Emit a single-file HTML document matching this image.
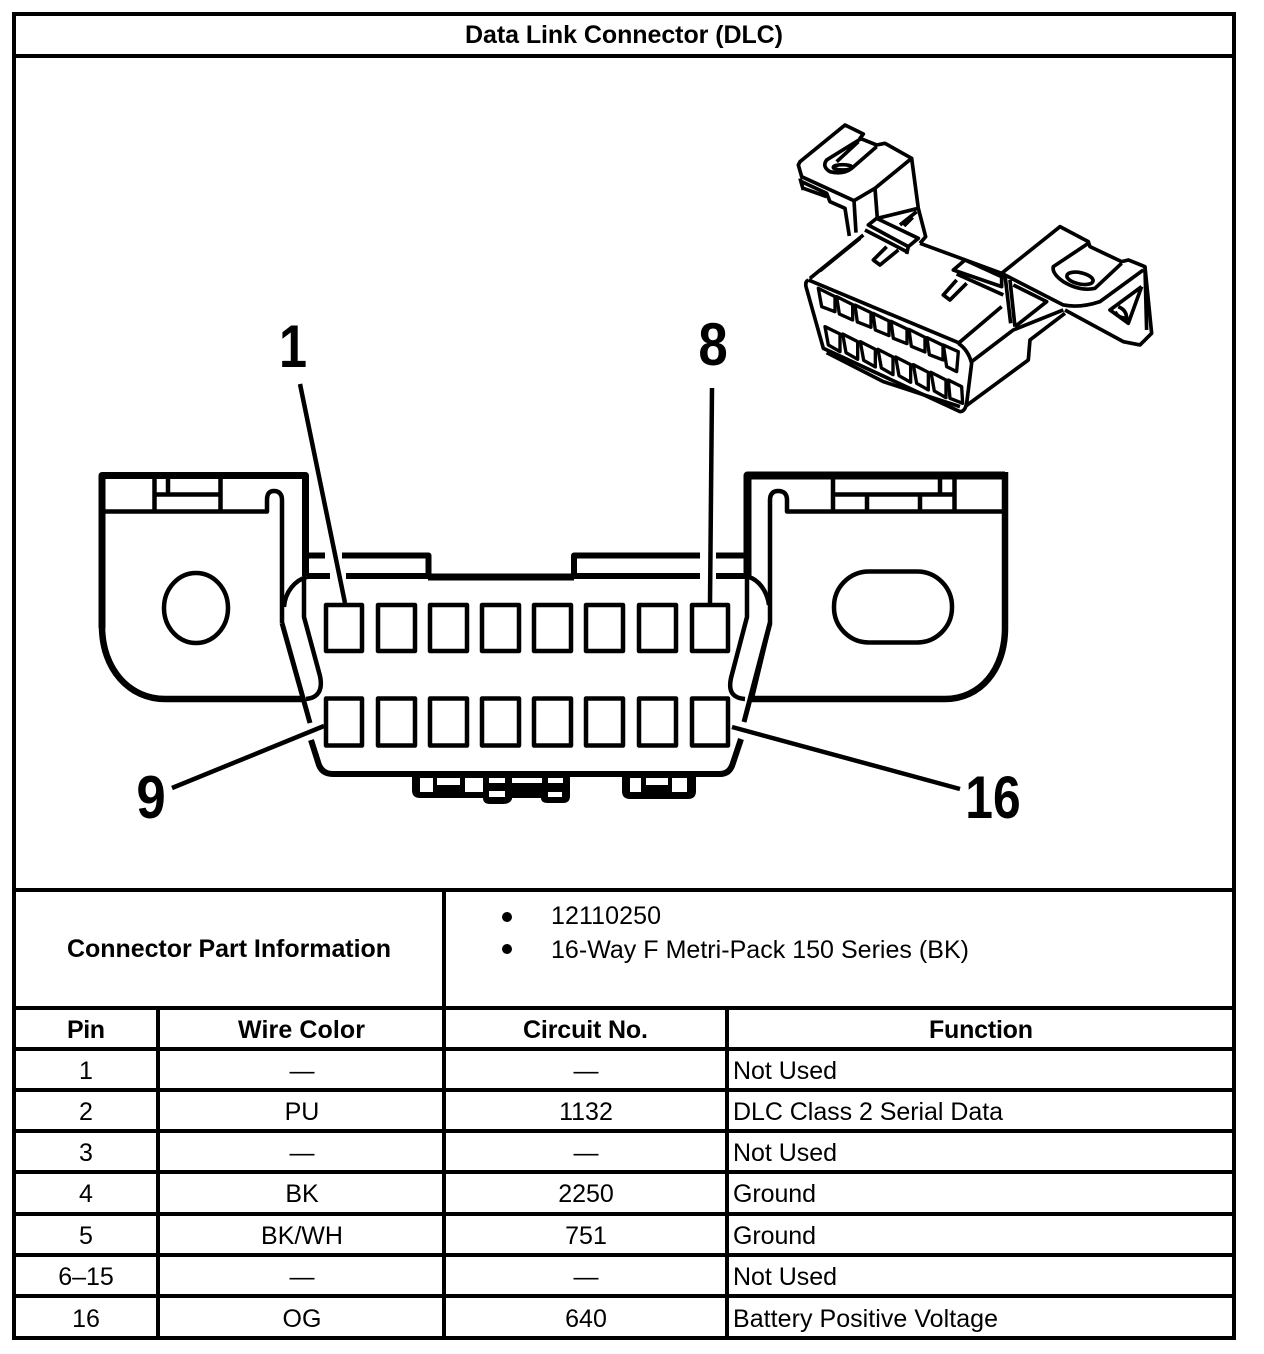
<!DOCTYPE html>
<html><head><meta charset="utf-8"><title>Data Link Connector (DLC)</title>
<style>
html,body{margin:0;padding:0;background:#fff}
svg{display:block}
text{font-family:"Liberation Sans",Arial,sans-serif;font-size:25px;fill:#000}
.b{font-weight:bold}
.m{text-anchor:middle}
.big{font-weight:bold;font-size:60px}
.l{fill:none;stroke:#000;stroke-linejoin:round;stroke-linecap:butt}
</style></head><body>
<svg width="1264" height="1354" viewBox="0 0 1264 1354" xmlns="http://www.w3.org/2000/svg">
<rect width="1264" height="1354" fill="#fff"/>

<!-- table grid -->
<g stroke="#000" stroke-width="4" fill="none">
<rect x="14" y="14" width="1220" height="1324"/>
<path d="M14 56H1234M14 890H1234M14 1008H1234M14 1049H1234M14 1090H1234M14 1131H1234M14 1172H1234M14 1214H1234M14 1255H1234M14 1296H1234"/>
<path d="M444 890V1338M158 1008V1338M727 1008V1338"/>
</g>

<text class="b" x="465" y="43" textLength="318">Data Link Connector (DLC)</text>
<text class="b" x="67" y="957" textLength="324">Connector Part Information</text>
<circle cx="507" cy="917" r="5"/><circle cx="507" cy="949" r="5"/>
<text x="551" y="924" textLength="110">12110250</text>
<text x="551" y="958" textLength="418">16-Way F Metri-Pack 150 Series (BK)</text>

<text class="b" x="67" y="1038" textLength="38">Pin</text>
<text class="b" x="238" y="1038" textLength="127">Wire Color</text>
<text class="b" x="523" y="1038" textLength="125">Circuit No.</text>
<text class="b" x="929" y="1038" textLength="104">Function</text>

<text class="m" x="86" y="1079">1</text><text class="m" x="302" y="1079">—</text><text class="m" x="586" y="1079">—</text><text x="733" y="1079" textLength="104">Not Used</text>
<text class="m" x="86" y="1120">2</text><text class="m" x="302" y="1120">PU</text><text class="m" x="586" y="1120">1132</text><text x="733" y="1120" textLength="270">DLC Class 2 Serial Data</text>
<text class="m" x="86" y="1161">3</text><text class="m" x="302" y="1161">—</text><text class="m" x="586" y="1161">—</text><text x="733" y="1161" textLength="104">Not Used</text>
<text class="m" x="86" y="1202">4</text><text class="m" x="302" y="1202">BK</text><text class="m" x="586" y="1202">2250</text><text x="733" y="1202" textLength="83">Ground</text>
<text class="m" x="86" y="1244">5</text><text class="m" x="302" y="1244">BK/WH</text><text class="m" x="586" y="1244">751</text><text x="733" y="1244" textLength="83">Ground</text>
<text class="m" x="86" y="1285">6–15</text><text class="m" x="302" y="1285">—</text><text class="m" x="586" y="1285">—</text><text x="733" y="1285" textLength="104">Not Used</text>
<text class="m" x="86" y="1327">16</text><text class="m" x="302" y="1327">OG</text><text class="m" x="586" y="1327">640</text><text x="733" y="1327" textLength="265">Battery Positive Voltage</text>

<!-- callout numbers -->
<text class="big m" transform="translate(293 367) scale(.84 1)">1</text>
<text class="big m" transform="translate(713 365) scale(.88 1)">8</text>
<text class="big m" transform="translate(151 818) scale(.88 1)">9</text>
<text class="big m" transform="translate(993 818) scale(.83 1)">16</text>

<!-- leaders -->
<g class="l" stroke-width="4.5">
<path d="M300 384L345 603M712 388L710 603M172 788L324 726M732 727L960 789"/>
</g>

<!-- left bracket -->
<g class="l">
<path stroke-width="7" d="M305.5 576V475.5H102V628"/>
<path stroke-width="6.5" d="M102 626C102 670 130 699 165 699H303"/>
<path stroke-width="4.5" d="M102 511.5H267V500C267 493 270 491 274 491C279 491 282 494 282 500V623"/>
<path stroke-width="5" d="M282 623L310 723"/>
<path stroke-width="4.5" d="M154.500 475V511M220.500 475V511M155 494.500H220M168 475V494"/>
<ellipse cx="196" cy="608" rx="32" ry="35" stroke-width="4.5"/>
<path stroke-width="4.500" d="M307 577C295 580 285 592 284 607"/>
<path stroke-width="4.500" d="M304 577V617L320 676C323 690 318 698 306 699"/>
</g>

<!-- right bracket -->
<g class="l">
<path stroke-width="8" d="M747.500 576V475.500H1005"/>
<path stroke-width="6.500" d="M1005 472V628C1005 670 980 699 945 699H750"/>
<path stroke-width="4.500" d="M1005 511.500H787V500C787 494 784 491 778 491C773 491 770 494 770 500V623L752 698"/>
<path stroke-width="5" d="M770 623L744 722"/>
<path stroke-width="4.500" d="M833 475V511M954.500 475V511M833 494.500H954M940 475V494M867 494.500V511M920 494.500V511"/>
<rect x="834" y="571.500" width="118" height="71" rx="35" ry="35" stroke-width="4.500"/>
<path stroke-width="4.500" d="M747 577V617L731 678C728 692 733 698 745 699"/>
<path stroke-width="4.500" d="M749 577C758 580 767 590 769 605"/>
</g>

<!-- connector top edges -->
<g class="l">
<path stroke-width="6" d="M309 555.500H325M342 555.500H428.500V577M574 577V555.500H700M716 555.500H750"/>
<path stroke-width="6" d="M307 576H330M346 576H428M700 576H574M716 576H750"/>
<path stroke-width="7" d="M428 577H574"/>
<path stroke-width="6" d="M311 740L318 762C320 770 325 774 333 774H720C727 774 731 770 733 763L741 739"/>
</g>

<!-- pins -->
<g fill="none" stroke="#000" stroke-width="4.500" stroke-linejoin="round">
<rect x="326" y="605" width="36" height="46"/><rect x="378" y="605" width="37" height="46"/><rect x="430" y="605" width="37" height="46"/><rect x="482" y="605" width="37" height="46"/><rect x="534" y="605" width="37" height="46"/><rect x="586" y="605" width="37" height="46"/><rect x="639" y="605" width="37" height="46"/><rect x="692" y="605" width="36" height="46"/>
<rect x="326" y="698.500" width="36" height="47"/><rect x="378" y="698.500" width="37" height="47"/><rect x="430" y="698.500" width="37" height="47"/><rect x="482" y="698.500" width="37" height="47"/><rect x="534" y="698.500" width="37" height="47"/><rect x="586" y="698.500" width="37" height="47"/><rect x="639" y="698.500" width="37" height="47"/><rect x="692" y="698.500" width="36" height="47"/>
</g>

<!-- bottom clips -->
<path d="M412 774H570V796Q570 803 563 803H548Q541 803 541 798H512V799Q510 804 503 804H490Q483 804 483 798H420Q412 798 412 790Z"/>
<g fill="#fff">
<rect x="420" y="778" width="13" height="14"/><rect x="437" y="778" width="23" height="7"/><rect x="465" y="778" width="18" height="14"/><rect x="489" y="778" width="16" height="5"/><rect x="489" y="791" width="16" height="6"/><rect x="512" y="778" width="30" height="5"/><rect x="548" y="778" width="15" height="5"/><rect x="548" y="792" width="14" height="5"/>
</g>
<path d="M622 774H696V791Q696 799 688 799H630Q622 799 622 791Z"/>
<g fill="#fff"><rect x="630" y="778" width="11" height="14"/><rect x="646" y="778" width="22" height="7"/><rect x="672" y="778" width="15" height="14"/></g>

<!-- 3D connector -->
<g transform="translate(780 110) scale(.3333)" class="l" stroke-width="11">
<path d="M60 155L195 45L250 72L240 85L290 105L315 100L395 145L285 235L222 272L65 200L55 165Z"/>
<path d="M245 85L140 150Q125 170 150 185Q190 195 215 175L290 110M235 95L170 155"/>
<ellipse cx="188" cy="172" rx="28" ry="8"/>
<path d="M60 205L70 240M65 215L140 250L150 275L195 295L208 378M70 235L140 260M222 272L228 368M395 145L415 295L437 380L420 400M285 235L292 325M415 295L292 325M410 305L360 345M398 322L372 348"/>
<path d="M265 345L290 325L415 385L385 410ZM255 360L380 425M320 410L280 450L300 465L355 420M385 410L380 432"/>
<path d="M90 505L250 375M120 482L240 385M85 510L540 700M420 400L665 490"/>
<path d="M85 510Q75 515 78 530L130 715L540 905Q555 905 560 880L575 760Q565 720 535 700"/>
<path d="M140 728L310 815L540 890"/>
<path d="M535 700L665 590M575 755L700 660L850 600M555 890L745 750L750 690L855 610"/>
<path d="M520 480L555 450L665 500V530ZM530 492L670 555M530 510L490 555L510 570L560 520"/>
<path d="M665 490L840 350L925 395L930 410L1025 455L1045 450L1095 470L1115 670L1080 705L1030 695L855 600"/>
<path d="M665 490L850 585Q900 595 960 575L1090 480M1095 470L1100 660"/>
<path d="M1085 530L990 600L1045 640L1085 530M1015 590Q1040 600 1040 625Q1015 625 1005 605"/>
<path d="M925 400L820 470Q815 490 850 515Q900 545 945 535L1025 460"/>
<ellipse cx="900" cy="505" rx="40" ry="17" transform="rotate(12 900 505)"/>
<path d="M675 495L692 640M690 510L705 650M700 525L800 575L705 650"/>
<g stroke-width="10">
<path d="M115 535L165 560V605L125 590Z"/><path d="M170 560L218 584V630L178 612Z"/><path d="M225 585L273 608V652L232 636Z"/><path d="M279 610L327 633V677L286 660Z"/><path d="M333 634L381 657V701L340 685Z"/><path d="M387 658L435 682V726L394 709Z"/><path d="M441 683L489 706V750L448 734Z"/><path d="M490 705L535 725L530 785L500 770Z"/>
<path d="M135 650L180 672V725L145 705Z"/><path d="M188 672L233 695V748L198 728Z"/><path d="M241 695L286 718V771L251 751Z"/><path d="M294 718L339 741V794L304 774Z"/><path d="M347 741L392 764V817L357 797Z"/><path d="M400 764L445 787V840L410 820Z"/><path d="M453 787L498 810V863L463 843Z"/><path d="M505 810L545 830L548 880L510 865Z"/>
</g>
</g>
</svg>
</body></html>
